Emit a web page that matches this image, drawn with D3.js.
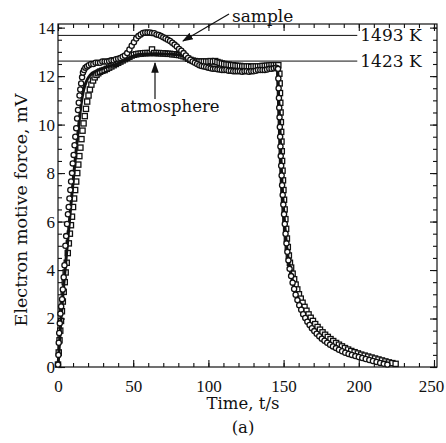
<!DOCTYPE html>
<html>
<head>
<meta charset="utf-8">
<script src="https://cdn.jsdelivr.net/npm/d3@7"></script>
<style>
  body { margin: 0; background: #fff; }
  text { font-family: "DejaVu Serif", serif; fill: #111; }
</style>
</head>
<body>
<div id="chart"></div>
<script>
// sample (circles)
const sampleT = [0, 0.3, 0.5, 0.8, 1.2, 1.6, 2.1, 2.7, 3.2, 3.8, 4.3, 4.9, 5.4, 6.0, 6.6, 7.1, 7.6, 8.2, 8.7, 9.3,
  9.8, 10.4, 11.0, 11.5, 12.1, 12.7, 13.3, 13.8, 14.3, 14.8, 15.4, 16.0, 16.6, 17.3, 18.2, 19.3, 20.5, 22, 23.5, 25,
  26.5, 28, 29.5, 31, 32.5, 34, 35.5, 37, 38.5, 40, 41.5, 43, 44.5, 46, 47.5, 49, 50.5, 52, 53.5, 55,
  56.5, 58, 59.5, 61, 62.5, 64, 65.5, 67, 68.5, 70, 71.5, 73, 74.5, 76, 77.5, 79, 80.5, 82, 83.5, 85,
  86.5, 88, 89.5, 91, 92.5, 94, 95.5, 97, 98.5, 100, 101.5, 103, 104.5, 106, 107.5, 109, 110.5, 112, 113.5, 115,
  116.5, 118, 119.5, 121, 122.5, 124, 125.5, 127, 128.5, 130, 131.5, 133, 134.5, 136, 137.5, 139, 140.5, 142, 143.5, 145,
  146.1, 146.3, 146.5, 146.7, 146.9, 147.1, 147.3, 147.5, 147.7, 147.9, 148.1, 148.4, 148.7, 149, 149.4, 149.8, 150.3, 150.8, 151.3, 151.9,
  152.5, 153.2, 154, 155, 156, 157, 158, 159.2, 160.4, 161.7, 163, 164.4, 165.8, 167.3, 168.8, 170.4, 172, 173.7, 175.4, 177.2,
  179, 180.9, 182.8, 184.8, 186.8, 188.9, 191, 193.2, 195.4, 197.7, 200, 202.3, 204.6, 207, 209.4, 211.8, 214.2, 216.6, 219]
const sampleV = [0.1, 0.5, 1.0, 1.4, 1.8, 2.2, 2.5, 2.8, 3.2, 3.7, 4.2, 5.0, 5.4, 5.9, 6.3, 6.6, 6.95, 7.3, 7.65, 8.0,
  8.4, 8.75, 9.15, 9.5, 9.85, 10.25, 10.6, 10.9, 11.2, 11.45, 11.7, 11.95, 12.15, 12.25, 12.35, 12.4, 12.45, 12.5, 12.5, 12.55,
  12.55, 12.55, 12.6, 12.6, 12.6, 12.62, 12.65, 12.65, 12.7, 12.72, 12.75, 12.8, 12.85, 12.95, 13.1, 13.25, 13.4, 13.55, 13.65, 13.72,
  13.78, 13.8, 13.8, 13.8, 13.78, 13.77, 13.72, 13.7, 13.65, 13.6, 13.55, 13.5, 13.45, 13.38, 13.3, 13.22, 13.12, 13.05, 12.95, 12.85,
  12.75, 12.68, 12.6, 12.55, 12.5, 12.45, 12.42, 12.4, 12.38, 12.35, 12.32, 12.3, 12.3, 12.28, 12.27, 12.25, 12.25, 12.25, 12.22, 12.22,
  12.2, 12.2, 12.2, 12.2, 12.18, 12.2, 12.2, 12.18, 12.2, 12.2, 12.22, 12.25, 12.25, 12.25, 12.25, 12.27, 12.3, 12.3, 12.32, 12.35,
  12.3, 12.3, 11.9, 11.5, 11.1, 10.7, 10.3, 9.9, 9.5, 9.1, 8.7, 8.3, 7.9, 7.5, 7.1, 6.7, 6.3, 5.9, 5.5, 5.1,
  4.75, 4.4, 4.05, 3.75, 3.48, 3.22, 2.98, 2.76, 2.55, 2.36, 2.18, 2.02, 1.87, 1.73, 1.6, 1.48, 1.37, 1.27, 1.17, 1.08,
  1.0, 0.92, 0.85, 0.78, 0.71, 0.65, 0.59, 0.54, 0.5, 0.45, 0.41, 0.37, 0.33, 0.29, 0.25, 0.21, 0.17, 0.13, 0.1]

// atmosphere (squares)
const atmT = [0, 0.5, 1, 1.5, 2, 2.6, 3.2, 3.8, 4.5, 5.1, 5.8, 6.5, 7.2, 7.9, 8.6, 9.3, 10, 10.7, 11.4, 12.1,
  12.8, 13.5, 14.2, 14.9, 15.6, 16.3, 17, 17.8, 18.6, 19.4, 20.3, 21.2, 22.2, 23.3, 24.4, 25.6, 26.8, 28, 29.5, 31,
  32.5, 34, 35.5, 37, 38.5, 40, 41.5, 43, 44.5, 46, 47.5, 49, 50.5, 52, 53.5, 55, 56.5, 58, 59.5, 61,
  62.5, 64, 65.5, 67, 68.5, 70, 71.5, 73, 74.5, 76, 77.5, 79, 80.5, 82, 83.5, 85, 86.5, 88, 89.5, 91,
  92.5, 94, 95.5, 97, 98.5, 100, 101.5, 103, 104.5, 106, 107.5, 109, 110.5, 112, 113.5, 115, 116.5, 118, 119.5, 121,
  122.5, 124, 125.5, 127, 128.5, 130, 131.5, 133, 134.5, 136, 137.5, 139, 140.5, 142, 143.5, 145, 146.5,
  147.2, 147.4, 147.6, 147.8, 148, 148.2, 148.4, 148.6, 148.8, 149, 149.3, 149.6, 149.9, 150.3, 150.7, 151.2, 151.7, 152.2, 152.8, 153.5,
  154.2, 155, 156, 157, 158, 159.1, 160.2, 161.4, 162.6, 163.9, 165.2, 166.6, 168, 169.5, 171, 172.6, 174.2, 175.9, 177.6, 179.4,
  181.2, 183, 184.9, 186.8, 188.8, 190.8, 192.9, 195, 197.2, 199.4, 201.6, 203.9, 206.2, 208.5, 210.8, 213.1, 215.4, 217.7, 220, 222.3, 224.5]
const atmV = [0.1, 0.6, 1.1, 1.5, 1.9, 2.3, 2.7, 3.1, 3.5, 3.9, 4.3, 4.7, 5.1, 5.5, 5.85, 6.2, 6.6, 6.95, 7.3, 7.65,
  8.0, 8.35, 8.7, 9.05, 9.4, 9.75, 10.05, 10.35, 10.65, 10.95, 11.2, 11.45, 11.65, 11.82, 11.95, 12.05, 12.12, 12.18, 12.22, 12.25,
  12.3, 12.35, 12.4, 12.45, 12.5, 12.55, 12.6, 12.65, 12.7, 12.75, 12.8, 12.85, 12.88, 12.9, 12.92, 12.93, 12.94, 12.95, 12.95, 12.95,
  13.1, 12.95, 12.95, 12.95, 12.94, 12.94, 12.93, 12.92, 12.92, 12.9, 12.9, 12.88, 12.87, 12.85, 12.82, 12.78, 12.72, 12.67, 12.64, 12.62,
  12.6, 12.6, 12.6, 12.6, 12.6, 12.6, 12.62, 12.6, 12.62, 12.58, 12.55, 12.52, 12.5, 12.48, 12.47, 12.45, 12.45, 12.43, 12.42, 12.42,
  12.4, 12.4, 12.4, 12.4, 12.38, 12.4, 12.4, 12.4, 12.4, 12.42, 12.42, 12.43, 12.44, 12.45, 12.45, 12.45, 12.45,
  12.1, 11.7, 11.3, 10.9, 10.5, 10.1, 9.7, 9.3, 8.9, 8.5, 8.1, 7.7, 7.3, 6.9, 6.5, 6.1, 5.7, 5.3, 4.95, 4.6,
  4.3, 4.1, 3.85, 3.62, 3.4, 3.2, 3.0, 2.82, 2.65, 2.48, 2.32, 2.17, 2.03, 1.9, 1.77, 1.65, 1.54, 1.43, 1.33, 1.24,
  1.15, 1.07, 0.99, 0.92, 0.85, 0.78, 0.72, 0.66, 0.61, 0.56, 0.51, 0.47, 0.43, 0.39, 0.35, 0.31, 0.27, 0.23, 0.19, 0.16, 0.13]

// heavy solid curve
const lineT = [0, 2, 5, 8, 10.4, 12, 13.8, 15.5, 17.1, 19, 21.5, 25, 29, 35, 40, 45, 50, 55, 65, 75,
  82, 86, 90, 95, 100, 110, 120, 130, 140, 146, 146.8, 147.5, 148.5, 150, 152, 155, 160, 165, 170, 175,
  180, 190, 200, 210, 220]
const lineV = [0, 2, 4.2, 6.3, 7.9, 8.9, 10.0, 10.9, 11.45, 11.8, 12.05, 12.2, 12.3, 12.42, 12.52, 12.68, 12.82, 12.9, 12.92, 12.9,
  12.85, 12.72, 12.55, 12.42, 12.35, 12.3, 12.28, 12.27, 12.3, 12.3, 11.0, 10.0, 8.2, 6.5, 5.0, 3.8, 2.7, 2.0, 1.55, 1.2,
  0.95, 0.6, 0.4, 0.25, 0.13]

const xTicks = [0, 50, 100, 150, 200, 250]
const yTicks = [0, 2, 4, 6, 8, 10, 12, 14]
const refValues = [13.68, 12.62]
const refLabels = ['1493 K', '1423 K']

const width = 446
const height = 443

const svg = d3.select('#chart').append('svg')
  .attr('width', width)
  .attr('height', height)

const x = d3.scaleLinear().domain([0, 252]).range([58, 437])
const y = d3.scaleLinear().domain([0, 14.15]).range([367, 24])

const xMinor = d3.range(0, 251, 10)
const yMinor = d3.range(0, 14.1, 0.5)

function addAxis(axis, tf, size, labels) {
  const g = svg.append('g').attr('transform', tf).call(axis.tickSizeInner(size).tickSizeOuter(0))
  g.select('.domain').remove()
  g.selectAll('line').attr('stroke', '#111').attr('stroke-width', 1.1)
  if (!labels) g.selectAll('text').remove()
  g.selectAll('text').style('font-size', '17px').style('font-family', 'Liberation Serif')
  return g
}

// minor ticks all round
addAxis(d3.axisBottom(x).tickValues(xMinor), `translate(0,${y(0)})`, -4, false)
addAxis(d3.axisTop(x).tickValues(xMinor), `translate(0,${y(14.15)})`, -4, false)
addAxis(d3.axisLeft(y).tickValues(yMinor), `translate(${x(0)},0)`, -4, false)
addAxis(d3.axisRight(y).tickValues(yMinor), `translate(${x(252)},0)`, -4, false)

// major ticks
addAxis(d3.axisBottom(x).tickValues(xTicks).tickPadding(13), `translate(0,${y(0)})`, -7, true)
  .selectAll('text').filter(d => d === 250).attr('dx', -3)
addAxis(d3.axisTop(x).tickValues(xTicks), `translate(0,${y(14.15)})`, -7, false)
addAxis(d3.axisLeft(y).tickValues(yTicks).tickPadding(3), `translate(${x(0)},0)`, -7, true)
addAxis(d3.axisRight(y).tickValues(yTicks), `translate(${x(252)},0)`, -7, false)

// frame
svg.append('rect')
  .attr('x', x(0)).attr('y', y(14.15))
  .attr('width', x(252) - x(0)).attr('height', y(0) - y(14.15))
  .attr('fill', 'none').attr('stroke', '#111').attr('stroke-width', 1.2)

// reference temperature lines
svg.selectAll('.ref').data(refValues).enter().append('line')
  .attr('x1', x(0)).attr('x2', x(199))
  .attr('y1', d => y(d)).attr('y2', d => y(d))
  .attr('stroke', '#111').attr('stroke-width', 1)

svg.selectAll('.refLabel').data(refLabels).enter().append('text')
  .attr('x', x(201))
  .attr('y', (d, i) => y(refValues[i]) + 6)
  .style('font-size', '17px')
  .text(d => d)

const atm = atmT.map((t, i) => [t, atmV[i]])
const sample = sampleT.map((t, i) => [t, sampleV[i]])
const curve = lineT.map((t, i) => [t, lineV[i]])

svg.selectAll('.sq').data(atm).enter().append('rect')
  .attr('x', d => x(d[0]) - 2.6).attr('y', d => y(d[1]) - 2.6)
  .attr('width', 5.2).attr('height', 5.2)
  .attr('fill', '#fff').attr('stroke', '#111').attr('stroke-width', 1.3)

svg.append('path')
  .datum(curve)
  .attr('d', d3.line().x(d => x(d[0])).y(d => y(d[1])).curve(d3.curveMonotoneX))
  .attr('fill', 'none').attr('stroke', '#111').attr('stroke-width', 3)

svg.selectAll('.ci').data(sample).enter().append('circle')
  .attr('cx', d => x(d[0])).attr('cy', d => y(d[1]))
  .attr('r', 2.6)
  .attr('fill', '#fff').attr('stroke', '#111').attr('stroke-width', 1.3)

// annotations
svg.append('defs').append('marker')
  .attr('id', 'head').attr('viewBox', '0 0 10 10')
  .attr('refX', 9).attr('refY', 5)
  .attr('markerWidth', 9).attr('markerHeight', 9)
  .attr('orient', 'auto')
  .append('path').attr('d', 'M0,1.5 L10,5 L0,8.5 Z').attr('fill', '#111')

svg.append('line')
  .attr('x1', 229).attr('y1', 14).attr('x2', 183).attr('y2', 41)
  .attr('stroke', '#111').attr('stroke-width', 1.2)
  .attr('marker-end', 'url(#head)')
svg.append('text').attr('x', 232).attr('y', 22)
  .style('font-size', '17px')
  .text('sample')

svg.append('line')
  .attr('x1', 155).attr('y1', 99).attr('x2', 155).attr('y2', 63)
  .attr('stroke', '#111').attr('stroke-width', 1.2)
  .attr('marker-end', 'url(#head)')
svg.append('text').attr('x', 170).attr('y', 112)
  .attr('text-anchor', 'middle')
  .style('font-size', '16.5px')
  .text('atmosphere')

// axis titles
svg.append('text')
  .attr('text-anchor', 'middle')
  .attr('transform', 'translate(27,210) rotate(-90)')
  .style('font-size', '17.5px')
  .text('Electron motive force, mV')

svg.append('text')
  .attr('x', 243).attr('y', 409)
  .attr('text-anchor', 'middle')
  .style('font-size', '16.5px')
  .text('Time, t/s')

svg.append('text')
  .attr('x', 243).attr('y', 433)
  .attr('text-anchor', 'middle')
  .style('font-size', '16.5px')
  .text('(a)')
</script>
</body>
</html>
